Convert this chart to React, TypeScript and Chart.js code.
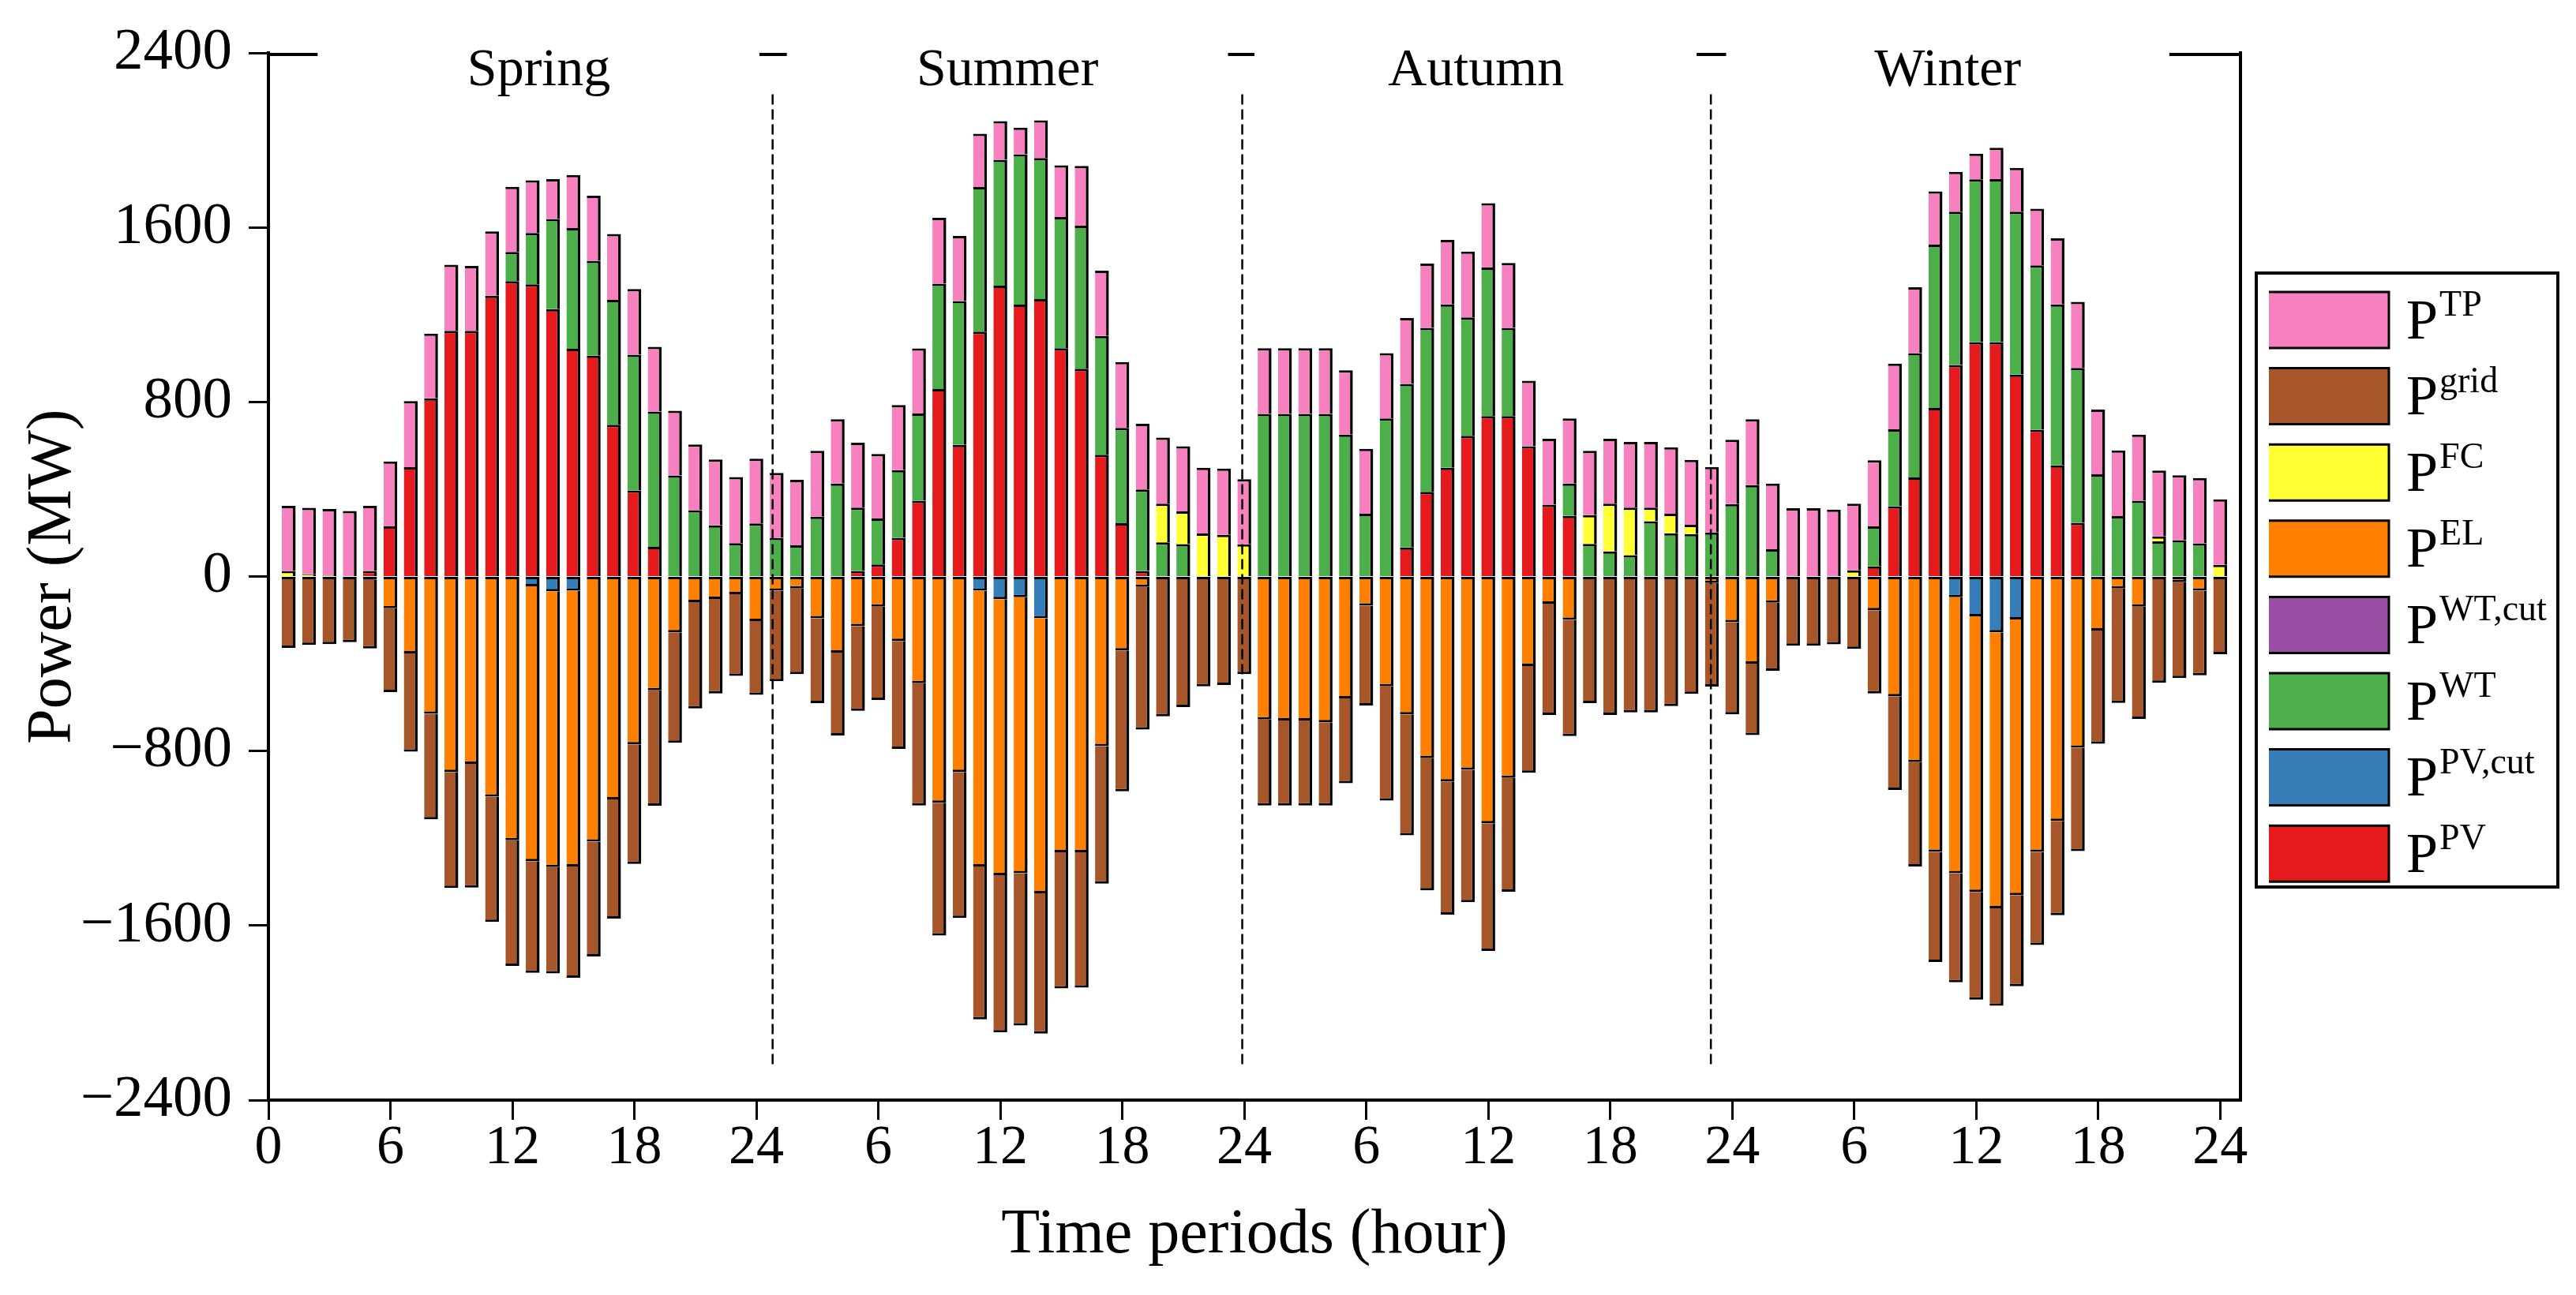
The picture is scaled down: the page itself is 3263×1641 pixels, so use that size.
import { useEffect, useRef } from "react"
import { Chart, registerables, type Plugin } from "chart.js"

Chart.register(...registerables)

const FONT = '"Liberation Serif", "Times New Roman", serif'

// hour index of every bar: 1..96 (spring, summer, autumn, winter)
const hours = Array.from({ length: 96 }, (_, i) => i + 1)

// x tick positions and the labels printed under them
const xTickValues = [0, 6, 12, 18, 24, 30, 36, 42, 48, 54, 60, 66, 72, 78, 84, 90, 96]
const xTickLabels = ["0", "6", "12", "18", "24", "6", "12", "18", "24", "6", "12", "18", "24", "6", "12", "18", "24"]
const yTickValues = [-2400, -1600, -800, 0, 800, 1600, 2400]

const seasons = ["Spring", "Summer", "Autumn", "Winter"]

// series (MW), one line per season
const pPV = [
	0, 0, 0, 0, 25, 230, 501, 817, 1126, 1126, 1287, 1354, 1339, 1225, 1044, 1012, 695, 394, 136, 0, 0, 0, 0, 0,
	0, 0, 0, 0, 25, 55, 177, 347, 859, 603, 1122, 1333, 1246, 1271, 1046, 952, 558, 244, 25, 0, 0, 0, 0, 0,
	0, 0, 0, 0, 0, 0, 0, 133, 388, 498, 645, 735, 735, 597, 329, 278, 0, 0, 0, 0, 0, 0, 0, 0,
	0, 0, 0, 0, 0, 0, 46, 322, 454, 772, 969, 1074, 1074, 925, 673, 509, 246, 0, 0, 0, 0, 0, 0, 0,
]
const pPVcut = [
	0, 0, 0, 0, 0, 0, 0, 0, 0, 0, 0, 0, -45, -68, -65, 0, 0, 0, 0, 0, 0, 0, 0, 0,
	0, 0, 0, 0, 0, 0, 0, 0, 0, 0, -65, -104, -95, -192, 0, 0, 0, 0, 0, 0, 0, 0, 0, 0,
	0, 0, 0, 0, 0, 0, 0, 0, 0, 0, 0, 0, 0, 0, 0, 0, 0, 0, 0, 0, 0, 0, 0, 0,
	0, 0, 0, 0, 0, 0, 0, 0, 0, 0, -95, -183, -256, -197, 0, 0, 0, 0, 0, 0, 0, 0, 0, 0,
]
const pWT = [
	0, 0, 0, 0, 0, 0, 0, 0, 0, 0, 0, 134, 235, 414, 553, 435, 573, 622, 620, 463, 304, 234, 153, 243,
	177, 143, 274, 426, 291, 211, 310, 400, 483, 659, 663, 577, 689, 647, 602, 656, 544, 437, 374, 156, 148, 0, 0, 0,
	745, 745, 745, 745, 650, 288, 724, 750, 751, 749, 542, 681, 404, 0, 0, 148, 149, 115, 98, 253, 198, 194, 202, 332,
	419, 125, 0, 0, 0, 0, 184, 353, 570, 749, 703, 746, 747, 747, 753, 738, 710, 468, 277, 347, 161, 166, 152, 0,
]
const pWTcut = [
	0, 0, 0, 0, 0, 0, 0, 0, 0, 0, 0, 0, 0, 0, 0, 0, 0, 0, 0, 0, 0, 0, 0, 0,
	0, 0, 0, 0, 0, 0, 0, 0, 0, 0, 0, 0, 0, 0, 0, 0, 0, 0, 0, 0, 0, 0, 0, 0,
	0, 0, 0, 0, 0, 0, 0, 0, 0, 0, 0, 0, 0, 0, 0, 0, 0, 0, 0, 0, 0, 0, 0, 0,
	0, 0, 0, 0, 0, 0, 0, 0, 0, 0, 0, 0, 0, 0, 0, 0, 0, 0, 0, 0, 0, 0, 0, 0,
]
const pEL = [
	0, 0, 0, 0, -15, -146, -353, -629, -896, -859, -1009, -1209, -1260, -1264, -1264, -1215, -1022, -770, -522, -256, -118, -103, -81, -204,
	-65, -55, -192, -349, -228, -138, -296, -489, -1037, -896, -1264, -1265, -1265, -1260, -1264, -1264, -778, -339, -48, 0, 0, 0, 0, 0,
	-656, -660, -660, -668, -559, -134, -504, -632, -833, -940, -886, -1131, -923, -411, -125, -199, 0, 0, 0, 0, 0, 0, -30, -210,
	-400, -120, 0, 0, 0, 0, -155, -549, -851, -1262, -1265, -1263, -1265, -1263, -1262, -1120, -785, -248, -55, -138, 0, -26, -65, 0,
]
const pFC = [
	25, 10, 5, 0, 0, 0, 0, 0, 0, 0, 0, 0, 0, 0, 0, 0, 0, 0, 0, 0, 0, 0, 0, 0,
	0, 0, 0, 0, 0, 0, 0, 0, 0, 0, 0, 0, 0, 0, 0, 0, 0, 0, 0, 178, 150, 197, 191, 147,
	0, 0, 0, 0, 0, 0, 0, 0, 0, 0, 0, 0, 0, 0, 0, 0, 132, 219, 218, 63, 90, 43, 0, 0,
	0, 0, 0, 0, 0, 28, 0, 0, 0, 0, 0, 0, 0, 0, 0, 0, 0, 0, 0, 0, 23, 0, 0, 53,
]
const pGrid = [
	-327, -314, -310, -301, -315, -384, -450, -484, -532, -567, -574, -576, -512, -487, -510, -527, -546, -548, -529, -506, -487, -433, -375, -339,
	-415, -393, -389, -380, -388, -428, -494, -561, -609, -669, -701, -721, -698, -643, -624, -621, -630, -646, -654, -641, -599, -504, -497, -448,
	-394, -390, -390, -382, -389, -457, -523, -554, -606, -610, -607, -585, -522, -489, -510, -533, -581, -635, -623, -623, -594, -538, -475, -422,
	-327, -312, -317, -317, -311, -332, -381, -429, -478, -505, -500, -494, -447, -418, -427, -433, -474, -519, -525, -515, -487, -440, -388, -356,
]
const pTP = [
	299, 305, 304, 300, 299, 297, 303, 296, 303, 297, 295, 298, 242, 182, 243, 298, 302, 302, 297, 297, 301, 302, 303, 297,
	298, 300, 302, 295, 297, 296, 299, 298, 302, 299, 244, 177, 122, 173, 237, 274, 300, 302, 301, 303, 299, 301, 304, 299,
	301, 301, 301, 301, 295, 297, 300, 302, 295, 296, 302, 295, 298, 300, 302, 298, 295, 297, 301, 301, 304, 297, 300, 295,
	302, 301, 313, 313, 307, 306, 303, 301, 302, 244, 183, 118, 144, 201, 260, 303, 303, 297, 301, 303, 302, 298, 299, 301,
]

// stacking order (bottom up for positives, top down for negatives)
const series = [
	{ sup: "PV", values: pPV, color: "#E41A1C" },
	{ sup: "PV,cut", values: pPVcut, color: "#377EB8" },
	{ sup: "WT", values: pWT, color: "#4DAF4A" },
	{ sup: "WT,cut", values: pWTcut, color: "#984EA3" },
	{ sup: "EL", values: pEL, color: "#FF7F00" },
	{ sup: "FC", values: pFC, color: "#FFFF33" },
	{ sup: "grid", values: pGrid, color: "#A65628" },
	{ sup: "TP", values: pTP, color: "#F781BF" },
]

// layout of the season marks (hours on the x axis)
const dividerHours = [24.8, 47.9, 70.95]
const seasonCenters = [13.3, 36.35, 59.4, 82.6]
const topSpineGaps = [
	[2.42, 24.15],
	[25.5, 47.2],
	[48.5, 70.25],
	[71.7, 93.5],
]

function segBorder(ctx: any) {
	if (ctx.type !== "data") return 0
	const di = ctx.datasetIndex
	const i = ctx.dataIndex
	const v = series[di].values[i]
	if (v >= 0) return { top: 3, right: 3.5, bottom: 0, left: 0 }
	let first = true
	for (let k = 0; k < di; k++) if (series[k].values[i] < 0) first = false
	return { top: first ? 3 : 0, right: 3.5, bottom: 3, left: 0 }
}

const decorPlugin: Plugin = {
	id: "decor",
	afterDatasetsDraw(chart) {
		const { ctx, chartArea } = chart
		const xs = chart.scales.x
		const ys = chart.scales.y
		ctx.save()
		ctx.strokeStyle = "#000"

		// dashed season dividers
		ctx.lineWidth = 2.5
		ctx.setLineDash([13, 6])
		dividerHours.forEach((h) => {
			const px = xs.getPixelForValue(h)
			ctx.beginPath()
			ctx.moveTo(px, ys.getPixelForValue(2210))
			ctx.lineTo(px, ys.getPixelForValue(-2235))
			ctx.stroke()
		})
		ctx.setLineDash([])

		// right spine and broken top spine
		ctx.lineWidth = 4
		ctx.beginPath()
		ctx.moveTo(chartArea.right, chartArea.top - 2)
		ctx.lineTo(chartArea.right, chartArea.bottom + 2)
		ctx.stroke()
		const edges = [0, ...topSpineGaps.flat(), 97]
		for (let k = 0; k < edges.length; k += 2) {
			ctx.beginPath()
			ctx.moveTo(xs.getPixelForValue(edges[k]), chartArea.top + 2)
			ctx.lineTo(xs.getPixelForValue(edges[k + 1]), chartArea.top + 2)
			ctx.stroke()
		}

		// season names
		ctx.fillStyle = "#000"
		ctx.font = `68px ${FONT}`
		ctx.textAlign = "center"
		ctx.textBaseline = "alphabetic"
		seasons.forEach((s, k) => {
			ctx.fillText(s, xs.getPixelForValue(seasonCenters[k]), chartArea.top + 41)
		})

		// legend
		const lx = chartArea.right + 20
		const ly = 346
		ctx.lineWidth = 4
		ctx.strokeRect(lx, ly, 382, 778)
		const rows = [...series].reverse()
		rows.forEach((s, k) => {
			const top = 370 + k * 96.6
			const sx = lx + 16
			ctx.fillStyle = s.color
			ctx.fillRect(sx, top, 152, 71)
			ctx.lineWidth = 3
			ctx.beginPath()
			ctx.moveTo(sx, top)
			ctx.lineTo(sx + 152, top)
			ctx.lineTo(sx + 152, top + 71)
			ctx.lineTo(sx, top + 71)
			ctx.stroke()
			const cy = top + 35.5
			ctx.fillStyle = "#000"
			ctx.textAlign = "left"
			ctx.font = `72px ${FONT}`
			ctx.fillText("P", lx + 190, cy + 23)
			const pw = ctx.measureText("P").width
			ctx.font = `46px ${FONT}`
			ctx.fillText(s.sup, lx + 190 + pw + 2, cy - 5.5)
		})
		ctx.restore()
	},
}

export default function App() {
	const canvasRef = useRef<HTMLCanvasElement>(null)
	const chartRef = useRef<Chart | null>(null)

	useEffect(() => {
		if (!canvasRef.current) return
		if (chartRef.current) chartRef.current.destroy()

		const datasets = series.map((s) => ({
			label: s.sup,
			data: hours.map((h, i) => ({ x: h, y: s.values[i] === 0 ? null : s.values[i] })),
			backgroundColor: s.color,
			borderColor: "#000",
			borderWidth: segBorder,
			borderSkipped: false,
			barPercentage: 0.68,
			categoryPercentage: 1,
			stack: "power",
		}))

		chartRef.current = new Chart(canvasRef.current, {
			type: "bar",
			data: { datasets: datasets as any },
			options: {
				animation: false,
				responsive: true,
				maintainAspectRatio: false,
				layout: { padding: { top: 67, right: 425, bottom: 0, left: 0 } },
				plugins: {
					legend: { display: false },
					tooltip: { enabled: false },
				},
				scales: {
					x: {
						type: "linear",
						min: 0,
						max: 97,
						offset: false,
						stacked: true,
						grid: {
							display: true,
							drawOnChartArea: false,
							drawTicks: true,
							tickLength: 25,
							tickWidth: 3,
							tickColor: "#000",
							offset: false,
						},
						border: { display: true, color: "#000", width: 4 },
						afterBuildTicks: (scale: any) => {
							scale.ticks = xTickValues.map((v) => ({ value: v }))
						},
						afterFit: (scale: any) => {
							scale.height = 247
						},
						ticks: {
							autoSkip: false,
							maxRotation: 0,
							padding: 2,
							color: "#000",
							font: { family: FONT, size: 70, lineHeight: 1 },
							callback: (_v: any, i: number) => xTickLabels[i],
						},
						title: {
							display: true,
							text: "Time periods (hour)",
							color: "#000",
							font: { family: FONT, size: 80, lineHeight: 1 },
							padding: { top: 0, bottom: 35 },
						},
					},
					y: {
						min: -2400,
						max: 2400,
						stacked: true,
						grid: {
							display: true,
							drawOnChartArea: false,
							drawTicks: true,
							tickLength: 25,
							tickWidth: 3,
							tickColor: "#000",
						},
						border: { display: true, color: "#000", width: 4 },
						afterBuildTicks: (scale: any) => {
							scale.ticks = yTickValues.map((v) => ({ value: v }))
						},
						afterFit: (scale: any) => {
							scale.width = 340
						},
						ticks: {
							padding: 21,
							color: "#000",
							font: { family: FONT, size: 75, lineHeight: 1 },
							callback: (v: any) => (Number(v) < 0 ? "\u2212" + Math.abs(Number(v)) : String(v)),
						},
						title: {
							display: true,
							text: "Power (MW)",
							color: "#000",
							font: { family: FONT, size: 80, lineHeight: 1 },
							padding: { top: 28, bottom: 0 },
						},
					},
				},
			},
			plugins: [decorPlugin],
		})

		return () => {
			if (chartRef.current) {
				chartRef.current.destroy()
				chartRef.current = null
			}
		}
	}, [])

	return (
		<div style={{ position: "fixed", left: 0, top: 0, width: 3263, height: 1641, background: "#fff" }}>
			<canvas ref={canvasRef}></canvas>
		</div>
	)
}
